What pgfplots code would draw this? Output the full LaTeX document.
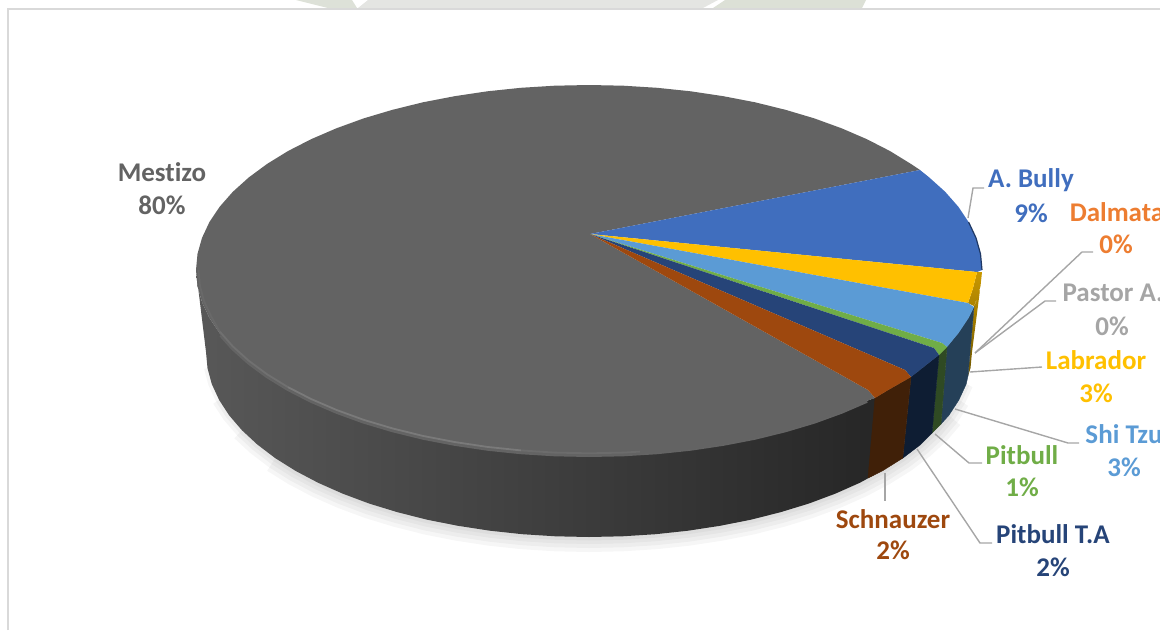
\documentclass[border=0pt]{standalone}
\usepackage{pgfplots}
\pgfplotsset{compat=1.18}
\usepackage{fontspec}
\setmainfont[Ligatures=NoCommon]{Carlito}
\definecolor{gtop}{HTML}{636363}
\definecolor{cblue}{HTML}{406EBE}
\definecolor{cor}{HTML}{ED7D31}
\definecolor{cgr}{HTML}{A5A5A5}
\definecolor{cye}{HTML}{FFC000}
\definecolor{clb}{HTML}{5B9BD5}
\definecolor{cgn}{HTML}{70AD47}
\definecolor{cdb}{HTML}{264478}
\definecolor{cbr}{HTML}{9E480E}
\definecolor{leader}{HTML}{A6A6A6}
\definecolor{wor}{RGB}{64,32,8}
\definecolor{wdb}{RGB}{14,29,51}
\definecolor{wgn}{RGB}{47,74,35}
\definecolor{wlb}{RGB}{37,64,88}
\newcommand{\lab}[4]{%
  \node[text=#4,font=\fontsize{27}{31}\selectfont\bfseries,anchor=center] at (axis cs:#1,#2) {#3};
}
\begin{document}
\begin{tikzpicture}
\path[use as bounding box,clip] (0,0) rectangle (1160pt,630pt);
\begin{axis}[at={(0,0)},anchor=south west,scale only axis,width=1160pt,height=630pt,
  xmin=0,xmax=1160,ymin=0,ymax=630,y dir=reverse,hide axis,clip=true,no markers]

% watermark strip and frame
\addplot[fill={rgb,255:red,221;green,225;blue,216},draw=none] coordinates {(296,0)(352,0)(357,8)(328,8)} -- cycle;
\addplot[fill={rgb,255:red,228;green,229;blue,226},draw=none] coordinates {(368,0)(718,0)(703,8)(358,8)} -- cycle;
\addplot[fill={rgb,255:red,220;green,224;blue,214},draw=none] coordinates {(725,0)(866,0)(862,8)(713,8)} -- cycle;
\addplot[draw={rgb,255:red,217;green,217;blue,217},line width=2pt] coordinates {(8,630)(8,9)(1160,9)};

% shadow under the pie
\addplot[draw=black,opacity=0.035,line width=30pt] coordinates {(948.9,415.3)(936.1,430.2)(920.7,444.5)(902.8,458.1)(882.4,470.9)(859.8,482.8)(835.2,493.7)(808.7,503.6)(780.5,512.2)(750.9,519.7)(720,525.8)(688.1,530.7)(655.5,534.2)(622.4,536.3)(589,537)(555.6,536.3)(522.5,534.2)(489.9,530.7)(458,525.8)(427.1,519.7)(397.5,512.2)(369.3,503.6)(342.8,493.7)(318.2,482.8)(295.6,470.9)(275.2,458.1)};
\addplot[draw=black,opacity=0.035,line width=22pt] coordinates {(958.9,399.9)(948.9,415.3)(936.1,430.2)(920.7,444.5)(902.8,458.1)(882.4,470.9)(859.8,482.8)(835.2,493.7)(808.7,503.6)(780.5,512.2)(750.9,519.7)(720,525.8)(688.1,530.7)(655.5,534.2)(622.4,536.3)(589,537)(555.6,536.3)(522.5,534.2)(489.9,530.7)(458,525.8)(427.1,519.7)(397.5,512.2)(369.3,503.6)(342.8,493.7)(318.2,482.8)(295.6,470.9)(275.2,458.1)(257.3,444.5)(241.9,430.2)};
\addplot[draw=black,opacity=0.035,line width=14pt] coordinates {(966.2,384.1)(958.9,399.9)(948.9,415.3)(936.1,430.2)(920.7,444.5)(902.8,458.1)(882.4,470.9)(859.8,482.8)(835.2,493.7)(808.7,503.6)(780.5,512.2)(750.9,519.7)(720,525.8)(688.1,530.7)(655.5,534.2)(622.4,536.3)(589,537)(555.6,536.3)(522.5,534.2)(489.9,530.7)(458,525.8)(427.1,519.7)(397.5,512.2)(369.3,503.6)(342.8,493.7)(318.2,482.8)(295.6,470.9)(275.2,458.1)(257.3,444.5)(241.9,430.2)(229.1,415.3)(219.1,399.9)};
\addplot[draw=black,opacity=0.035,line width=7pt] coordinates {(966.2,384.1)(958.9,399.9)(948.9,415.3)(936.1,430.2)(920.7,444.5)(902.8,458.1)(882.4,470.9)(859.8,482.8)(835.2,493.7)(808.7,503.6)(780.5,512.2)(750.9,519.7)(720,525.8)(688.1,530.7)(655.5,534.2)(622.4,536.3)(589,537)(555.6,536.3)(522.5,534.2)(489.9,530.7)(458,525.8)(427.1,519.7)(397.5,512.2)(369.3,503.6)(342.8,493.7)(318.2,482.8)(295.6,470.9)(275.2,458.1)(257.3,444.5)(241.9,430.2)(229.1,415.3)(219.1,399.9)(211.8,384.1)(207.5,368.1)};

% side walls
\addplot[draw=none,left color={rgb,255:red,88;green,88;blue,88},middle color={rgb,255:red,60;green,60;blue,60},right color={rgb,255:red,38;green,38;blue,38}] coordinates {
(880,396)(866.9,400.8)(841.6,411.7)(814.4,421.6)(785.5,430.2)(755.1,437.7)(723.4,443.8)(690.7,448.7)(657.2,452.2)(623.3,454.3)(589,455)(554.7,454.3)(520.8,452.2)(487.3,448.7)(454.6,443.8)(422.9,437.7)(392.5,430.2)(363.6,421.6)(336.4,411.7)(311.1,400.8)(287.9,388.9)(267.1,376.1)(248.7,362.5)(232.8,348.2)(219.7,333.3)(209.4,317.9)(202,302.1)(197.5,286.1)(196,270)
(206,352)(207.5,368.1)(211.8,384.1)(219.1,399.9)(229.1,415.3)(241.9,430.2)(257.3,444.5)(275.2,458.1)(295.6,470.9)(318.2,482.8)(342.8,493.7)(369.3,503.6)(397.5,512.2)(427.1,519.7)(458,525.8)(489.9,530.7)(522.5,534.2)(555.6,536.3)(589,537)(622.4,536.3)(655.5,534.2)(688.1,530.7)(720,525.8)(750.9,519.7)(780.5,512.2)(808.7,503.6)(835.2,493.7)(859.8,482.8)(874,475)} -- cycle;
\addplot[draw=none,top color={rgb,255:red,201;green,152;blue,0},bottom color={rgb,255:red,110;green,86;blue,0}] coordinates {(977,272)(982,272)(980.5,286.1)(976,302.1)(974,307)(968,376)(970.5,368.1)(972,352)(980,290)(974,306)(968,303)(973,288)} -- cycle;
\addplot[draw=wlb,line width=0.4pt,fill=wlb] coordinates {(974,307)(968.6,317.9)(958.3,333.3)(947,347)(941,424)(948.9,415.3)(958.9,399.9)(966.2,384.1)(968,376)} -- cycle;
\addplot[draw=wgn,line width=0.4pt,fill=wgn] coordinates {(947,347)(939,355)(932,433)(941,424)} -- cycle;
\addplot[draw=wdb,line width=0.4pt,fill=wdb] coordinates {(939,355)(929.3,362.5)(911,377)(902.8,458.1)(920.7,444.5)(932,433)} -- cycle;
\addplot[draw=wor,line width=0.4pt,fill=wor] coordinates {(911,377)(890.1,388.9)(875,398)(868,478)(882.4,470.9)(902.8,458.1)} -- cycle;

% bevel beneath the top face
\addplot[draw={rgb,255:red,100;green,100;blue,100},line width=4pt] coordinates {(866.9,400.8)(841.6,411.7)(814.4,421.6)(785.5,430.2)(755.1,437.7)(723.4,443.8)(690.7,448.7)(657.2,452.2)(623.3,454.3)(589,455)(554.7,454.3)(520.8,452.2)(487.3,448.7)(454.6,443.8)(422.9,437.7)(392.5,430.2)(363.6,421.6)(336.4,411.7)(311.1,400.8)(287.9,388.9)(267.1,376.1)(248.7,362.5)(232.8,348.2)(221,335)};

% top face
\addplot[draw=none,fill=gtop] coordinates {(590,234)(868,390)(875,398)(866.9,400.8)(841.6,411.7)(814.4,421.6)(785.5,430.2)(755.1,437.7)(723.4,443.8)(690.7,448.7)(657.2,452.2)(623.3,454.3)(589,455)(554.7,454.3)(520.8,452.2)(487.3,448.7)(454.6,443.8)(422.9,437.7)(392.5,430.2)(363.6,421.6)(336.4,411.7)(311.1,400.8)(287.9,388.9)(267.1,376.1)(248.7,362.5)(232.8,348.2)(219.7,333.3)(209.4,317.9)(202,302.1)(197.5,286.1)(196,270)(197.5,253.9)(202,237.9)(209.4,222.1)(219.7,206.7)(232.8,191.8)(248.7,177.5)(267.1,163.9)(287.9,151.1)(311.1,139.2)(336.4,128.3)(363.6,118.4)(392.5,109.8)(422.9,102.3)(454.6,96.2)(487.3,91.3)(520.8,87.8)(554.7,85.7)(589,85)(623.3,85.7)(657.2,87.8)(690.7,91.3)(723.4,96.2)(755.1,102.3)(785.5,109.8)(814.4,118.4)(841.6,128.3)(866.9,139.2)(890.1,151.1)(910.9,163.9)(920,170)} -- cycle;
\addplot[draw=none,fill=cblue] coordinates {(590,234)(920,170)(929.3,177.5)(945.2,191.8)(958.3,206.7)(968.6,222.1)(976,237.9)(980.5,253.9)(982,270)(977,272)} -- cycle;
\addplot[draw=none,fill=cye] coordinates {(590,234)(977,272)(973,288)(968,303)} -- cycle;
\addplot[draw=none,fill=clb] coordinates {(590,234)(968,303)(974,307)(968.6,317.9)(958.3,333.3)(947,347)(942,343)} -- cycle;
\addplot[draw=none,fill=cgn] coordinates {(590,234)(942,343)(947,347)(939,355)(934,348)} -- cycle;
\addplot[draw=none,fill=cdb] coordinates {(590,234)(934,348)(939,355)(929.3,362.5)(911,377)(905,370)} -- cycle;
\addplot[draw=none,fill=cbr] coordinates {(590,234)(905,370)(911,377)(890.1,388.9)(875,398)(868,390)} -- cycle;

% rim highlights and dark blue edge
\addplot[draw={rgb,255:red,108;green,108;blue,108},line width=1.8pt] coordinates {(640,451.6)(623.3,452.6)(589,453.3)(554.7,452.6)(520.8,450.4)};
\addplot[draw={rgb,255:red,122;green,122;blue,122},line width=1.8pt] coordinates {(520.8,450.4)(487.3,446.9)(454.6,442)(422.9,435.9)(392.5,428.4)(363.6,419.8)(336.4,409.9)(311.1,399)(287.9,387.1)};
\addplot[draw={rgb,255:red,112;green,112;blue,112},line width=1.8pt] coordinates {(287.9,387.1)(267.1,374.3)(248.7,360.7)(232.8,346.4)(219.7,331.5)};
\addplot[draw={rgb,255:red,105;green,105;blue,105},line width=1.8pt] coordinates {(219.7,331.5)(211.4,316.9)(204,301.1)(200,286.1)(198.5,270)};
\addplot[draw={rgb,255:red,31;green,56;blue,100},line width=1.2pt] coordinates {(968.6,222.1)(976,237.9)(980.5,253.9)(982,270)};

% leader lines
\addplot[draw=leader,line width=1.4pt] coordinates {(968,218)(973,188)(984,188)};
\addplot[draw=leader,line width=1.4pt] coordinates {(975,353)(1082,252)(1093,252)};
\addplot[draw=leader,line width=1.4pt] coordinates {(975,353)(1045,301)(1056,301)};
\addplot[draw=leader,line width=1.4pt] coordinates {(970,372)(1042,367)};
\addplot[draw=leader,line width=1.4pt] coordinates {(955,409)(1068,443)(1079,443)};
\addplot[draw=leader,line width=1.4pt] coordinates {(935,434)(969,463)(982,463)};
\addplot[draw=leader,line width=1.4pt] coordinates {(917,449)(980,543)(992,543)};
\addplot[draw=leader,line width=1.4pt] coordinates {(885,473)(885,501)};

% labels
\lab{162}{172}{Mestizo}{gtop}
\lab{162}{205}{80\%}{gtop}
\lab{1031}{180}{A. Bully}{cblue}
\lab{1031}{213}{9\%}{cblue}
\lab{1117}{212}{Dalmata}{cor}
\lab{1116}{244}{0\%}{cor}
\lab{1113}{293}{Pastor A.}{cgr}
\lab{1112}{326}{0\%}{cgr}
\lab{1096}{360}{Labrador}{cye}
\lab{1096}{393}{3\%}{cye}
\lab{1124}{434}{Shi Tzu}{clb}
\lab{1124}{467}{3\%}{clb}
\lab{1022}{455}{Pitbull}{cgn}
\lab{1022}{487}{1\%}{cgn}
\lab{1053}{534}{Pitbull T.A}{cdb}
\lab{1053}{567}{2\%}{cdb}
\lab{893}{519}{Schnauzer}{cbr}
\lab{893}{550}{2\%}{cbr}
\end{axis}
\end{tikzpicture}
\end{document}
